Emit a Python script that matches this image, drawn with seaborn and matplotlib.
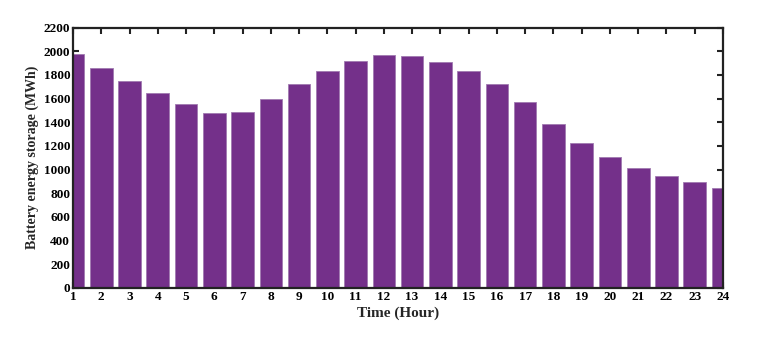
import matplotlib
matplotlib.use('Agg')
import matplotlib.pyplot as plt
import seaborn as sns
import pandas as pd

# energia armazenada por hora
hours = list(range(1, 25))
storage = [1975, 1855, 1750, 1650, 1550, 1475, 1490, 1600, 1720, 1835, 1920, 1965,
           1960, 1910, 1835, 1720, 1570, 1385, 1225, 1110, 1015, 950, 895, 845]
yticks = list(range(0, 2201, 200))

df = pd.DataFrame({'hour': hours, 'storage': storage})

sns.set_style('ticks')
plt.rcParams['font.family'] = ['Liberation Serif', 'DejaVu Serif']
plt.rcParams['font.weight'] = 'bold'

fig = plt.figure(figsize=(7.65, 3.38), dpi=100)
ax = fig.add_axes([0.0954, 0.148, 0.8497, 0.7706])

sns.barplot(data=df, x='hour', y='storage', native_scale=True, color='#74308A',
            saturation=1, width=0.8, edgecolor='#a07ab0', linewidth=0.6, ax=ax)

ax.set_xlim(1, 24)
ax.set_ylim(0, 2200)
ax.set_xticks(hours)
ax.set_yticks(yticks)
ax.tick_params(direction='in', top=True, right=True, length=4, width=1.5,
               labelsize=9.5, pad=2, colors='#222222', labelcolor='black')
for lab in ax.get_xticklabels() + ax.get_yticklabels():
    lab.set_fontweight('bold')
for s in ax.spines.values():
    s.set_linewidth(1.6)
    s.set_color('#222222')

ax.set_xlabel('Time (Hour)', fontsize=11, fontweight='bold', labelpad=2.5)
ax.set_ylabel('Battery energy storage (MWh)', fontsize=10, fontweight='bold', labelpad=3)

fig.savefig('out.png', dpi=100)
